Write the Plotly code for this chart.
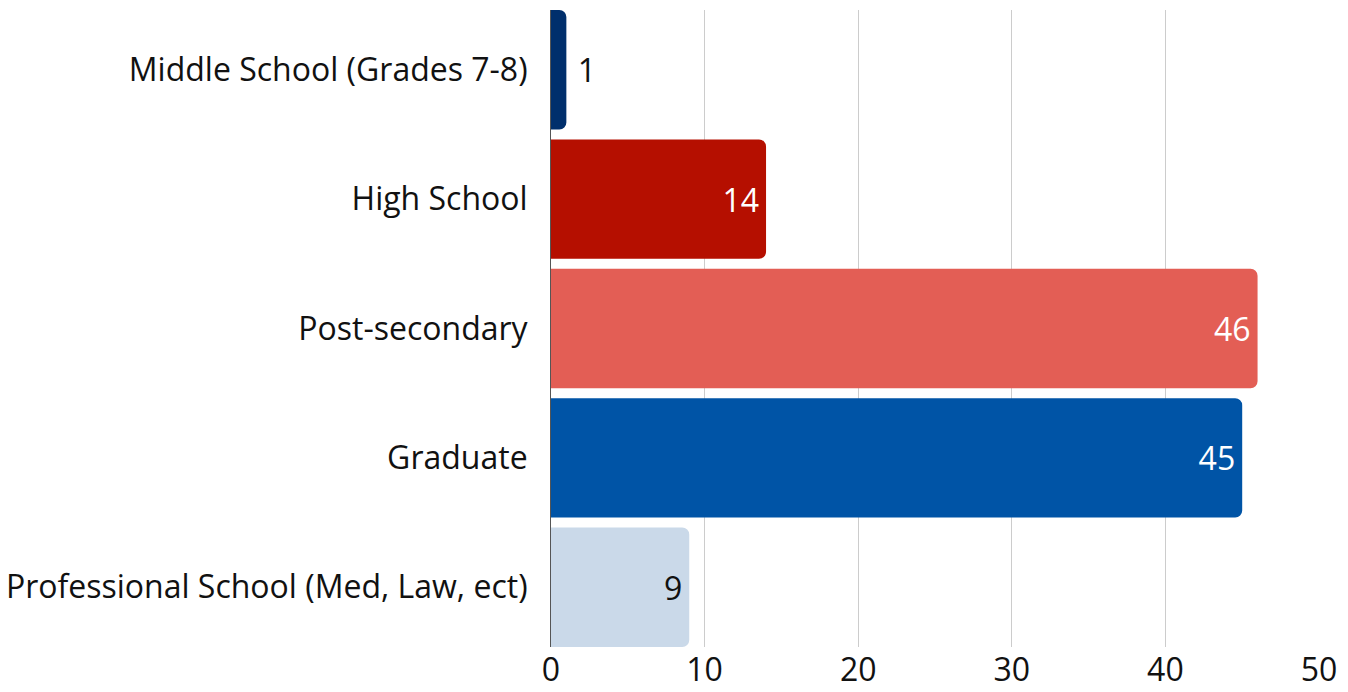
import plotly.graph_objects as go

categories = [
    "Middle School (Grades 7-8)",
    "High School",
    "Post-secondary",
    "Graduate",
    "Professional School (Med, Law, ect)",
]
values = [1, 14, 46, 45, 9]
bar_colors = ["#002F6C", "#B50F00", "#E35E55", "#0054A6", "#CAD9E9"]
label_colors = ["#111111", "#FFFFFF", "#FFFFFF", "#FFFFFF", "#111111"]
label_positions = ["outside", "inside", "inside", "inside", "inside"]
label_templates = [" %{x}", "%{x}", "%{x}", "%{x}", "%{x}"]
x_ticks = [0, 10, 20, 30, 40, 50]

gap = 0.077
fig = go.Figure(
    go.Bar(
        x=values,
        y=categories,
        orientation="h",
        marker=dict(color=bar_colors, line=dict(width=0)),
        texttemplate=label_templates,
        textposition=label_positions,
        insidetextanchor="end",
        textfont=dict(color=label_colors, size=32, family="Open Sans"),
        cliponaxis=False,
    )
)

fig.update_layout(
    width=1348,
    height=692,
    margin=dict(l=551, r=29, t=10, b=45),
    paper_bgcolor="white",
    plot_bgcolor="white",
    font=dict(family="Open Sans", size=32, color="#111111"),
    bargap=gap,
    barcornerradius=7,
    showlegend=False,
)
fig.update_xaxes(
    range=[0, 50],
    tickvals=x_ticks,
    showgrid=True,
    gridcolor="#CCCCCC",
    gridwidth=1,
    zeroline=False,
    showline=False,
    ticks="",
    automargin=False,
    ticklabelstandoff=1,
    tickfont=dict(size=32, color="#111111"),
)
# bars fill the plot height: the outer bars touch the top and bottom edges
fig.update_yaxes(
    range=[len(categories) - 0.5 - gap / 2, -0.5 + gap / 2],
    showgrid=False,
    showline=True,
    linecolor="#555555",
    linewidth=1,
    ticks="",
    automargin=False,
    ticklabelstandoff=16,
    tickfont=dict(size=32, color="#111111"),
)

fig.write_html("out.html")
